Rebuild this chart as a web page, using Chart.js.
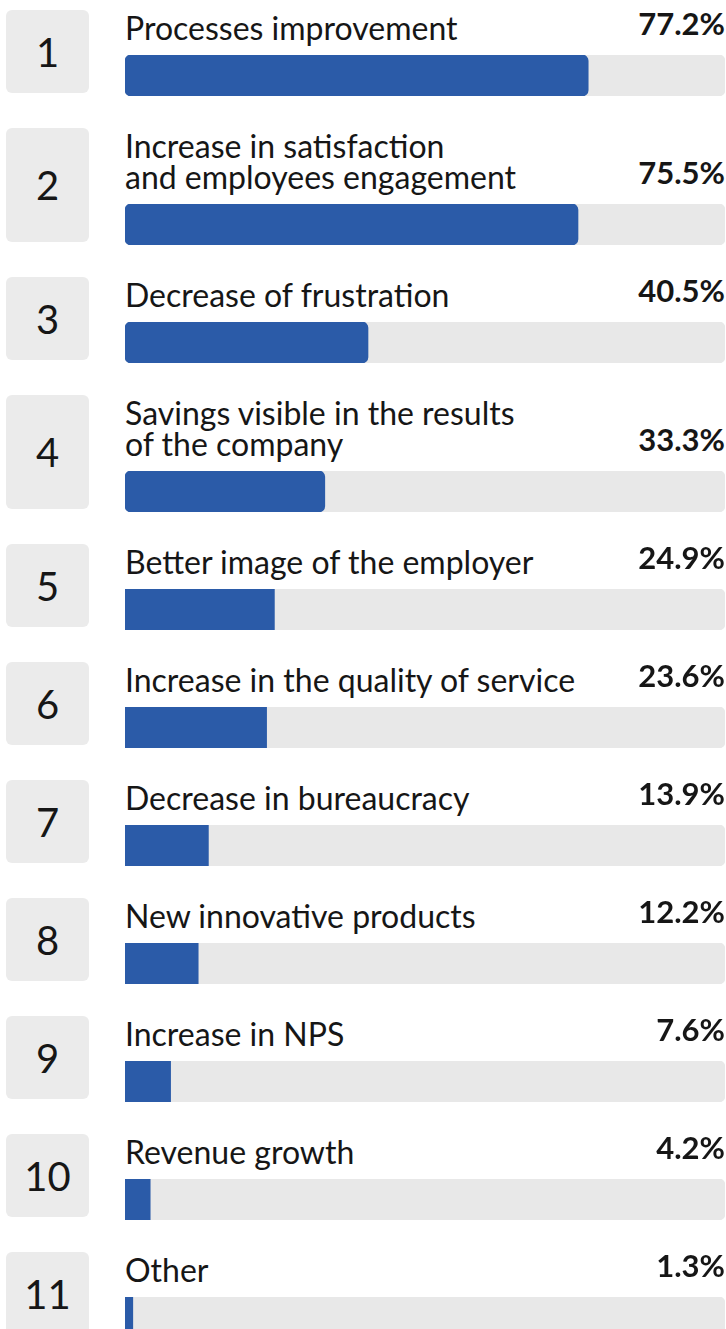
<!DOCTYPE html>
<html>
<head>
<meta charset="utf-8">
<script src="https://cdn.jsdelivr.net/npm/chart.js@4.4.0/dist/chart.umd.min.js"></script>
<style>
  body {
    margin: 0;
    background: #ffffff;
    font-family: Lato, "Open Sans", sans-serif;
    color: #161616;
  }
  #list {
    width: 726px;
    padding-top: 10px;
  }
  .row {
    display: flex;
    align-items: flex-start;
    margin-bottom: 32px;
  }
  .rank {
    width: 83px;
    margin-left: 6px;
    margin-right: 36px;
    background: #ebebeb;
    border-radius: 6px;
    display: flex;
    align-items: center;
    justify-content: center;
    font-size: 40px;
  }
  .body {
    width: 600px;
  }
  .head {
    display: flex;
    justify-content: space-between;
    align-items: flex-end;
    padding-top: 2px;
    padding-bottom: 12px;
  }
  .label {
    font-size: 32px;
    line-height: 31px;
    white-space: nowrap;
  }
  .pct {
    font-size: 31px;
    line-height: 31px;
    font-weight: 700;
    position: relative;
    top: -4px;
  }
  .bar {
    width: 600px;
    height: 41px;
  }
</style>
</head>
<body>
<div id="list"></div>
<script>
const ranks = [1, 2, 3, 4, 5, 6, 7, 8, 9, 10, 11];
const labels = [
  ["Processes improvement"],
  ["Increase in satisfaction", "and employees engagement"],
  ["Decrease of frustration"],
  ["Savings visible in the results", "of the company"],
  ["Better image of the employer"],
  ["Increase in the quality of service"],
  ["Decrease in bureaucracy"],
  ["New innovative products"],
  ["Increase in NPS"],
  ["Revenue growth"],
  ["Other"]
];
const values = [77.2, 75.5, 40.5, 33.3, 24.9, 23.6, 13.9, 12.2, 7.6, 4.2, 1.3];
const maxValue = 100;

const BLUE = "#2b5ba8";
const TRACK = "#e8e8e8";
// the top four bars get rounded ends, the rest are square
const ROUNDED_ROWS = 4;

let list = document.getElementById("list");

ranks.forEach(function (rank, i) {
  let row = document.createElement("div");
  row.className = "row";

  let box = document.createElement("div");
  box.className = "rank";
  box.textContent = rank;

  let body = document.createElement("div");
  body.className = "body";

  let head = document.createElement("div");
  head.className = "head";
  let label = document.createElement("div");
  label.className = "label";
  label.innerHTML = labels[i].join("<br>");
  let pct = document.createElement("div");
  pct.className = "pct";
  pct.textContent = values[i].toFixed(1) + "%";
  head.appendChild(label);
  head.appendChild(pct);

  let wrap = document.createElement("div");
  wrap.className = "bar";
  let canvas = document.createElement("canvas");
  canvas.width = 600;
  canvas.height = 41;
  wrap.appendChild(canvas);

  body.appendChild(head);
  body.appendChild(wrap);
  row.appendChild(box);
  row.appendChild(body);
  list.appendChild(row);

  // rank box is a touch shorter than the row it sits in
  box.style.height = (body.offsetHeight - 3) + "px";

  let rounded = i < ROUNDED_ROWS;
  new Chart(canvas.getContext("2d"), {
    type: "bar",
    data: {
      labels: [labels[i].join(" ")],
      datasets: [
        {
          data: [values[i]],
          backgroundColor: BLUE,
          borderRadius: rounded ? 6 : 0,
          borderSkipped: false,
          barPercentage: 1,
          categoryPercentage: 1,
          grouped: false,
          order: 0,
        },
        {
          data: [maxValue],
          backgroundColor: TRACK,
          borderRadius: 6,
          borderSkipped: false,
          barPercentage: 1,
          categoryPercentage: 1,
          grouped: false,
          order: 1,
        },
      ],
    },
    options: {
      indexAxis: "y",
      responsive: false,
      animation: false,
      devicePixelRatio: 1,
      layout: { padding: 0 },
      plugins: {
        legend: { display: false },
        tooltip: { enabled: false },
      },
      scales: {
        x: { min: 0, max: maxValue, display: false },
        y: { display: false },
      },
    },
  });
});
</script>
</body>
</html>
